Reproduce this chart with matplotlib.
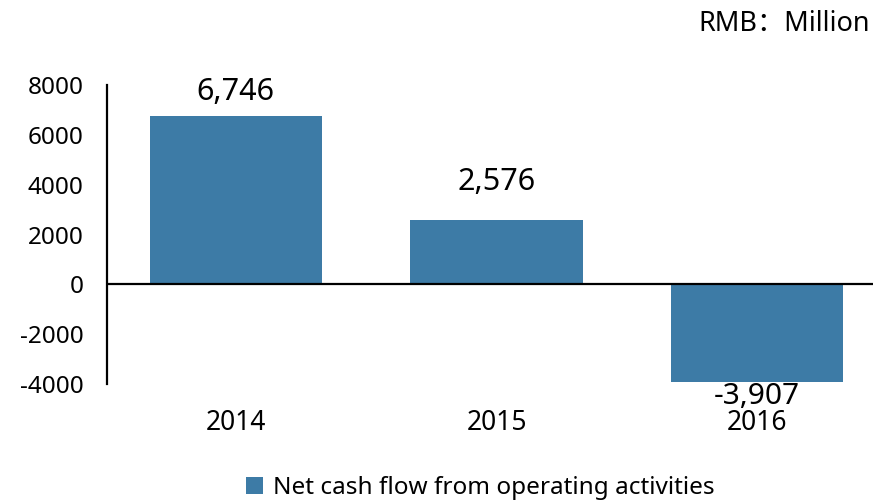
import matplotlib.pyplot as plt

plt.rcParams['font.family'] = ['Noto Sans', 'Noto Sans CJK SC', 'DejaVu Sans']
plt.rcParams['axes.unicode_minus'] = False

years = ['2014', '2015', '2016']
values = [6746, 2576, -3907]
labels = ['6,746', '2,576', '-3,907']
color = '#3D7BA6'

fig = plt.figure(figsize=(8.73, 5.01), dpi=100)
ax = fig.add_axes([107/873, 117/501, (873-107)/873, 299/501])

x = range(len(years))
ax.bar(x, values, width=0.66, color=color, label='Net cash flow from operating activities')
ax.axhline(0, color='black', lw=1.6)

# labels outside the bar end, kept inside the plot area at the top
for i, v in enumerate(values):
    if v > 0:
        ax.text(i, min(v + 1550, 7700), labels[i], ha='center', va='center', fontsize=22)
    else:
        ax.annotate(labels[i], (i, v), xytext=(0, 0), textcoords='offset points',
                    ha='center', va='top', fontsize=21.5)

ax.set_xlim(-0.494, 2.444)
ax.set_ylim(-4000, 8000)
ax.set_yticks(range(-4000, 8001, 2000))
ax.set_xticks(list(x))
ax.set_xticklabels(years)
ax.tick_params(axis='y', length=0, labelsize=17.5, pad=17)
ax.tick_params(axis='x', length=0, labelsize=19, pad=18)
for s in ['top', 'right', 'bottom']:
    ax.spines[s].set_visible(False)
ax.spines['left'].set_linewidth(1.6)

fig.text(870/873, 1 - 24/501, 'RMB：Million', ha='right', va='center', fontsize=19.5)
fig.legend(loc='center', bbox_to_anchor=(480/873, 1 - 488/501), frameon=False,
           fontsize=17.5, handlelength=0.7, handleheight=0.7, handletextpad=0.4)

fig.savefig('out.png')
